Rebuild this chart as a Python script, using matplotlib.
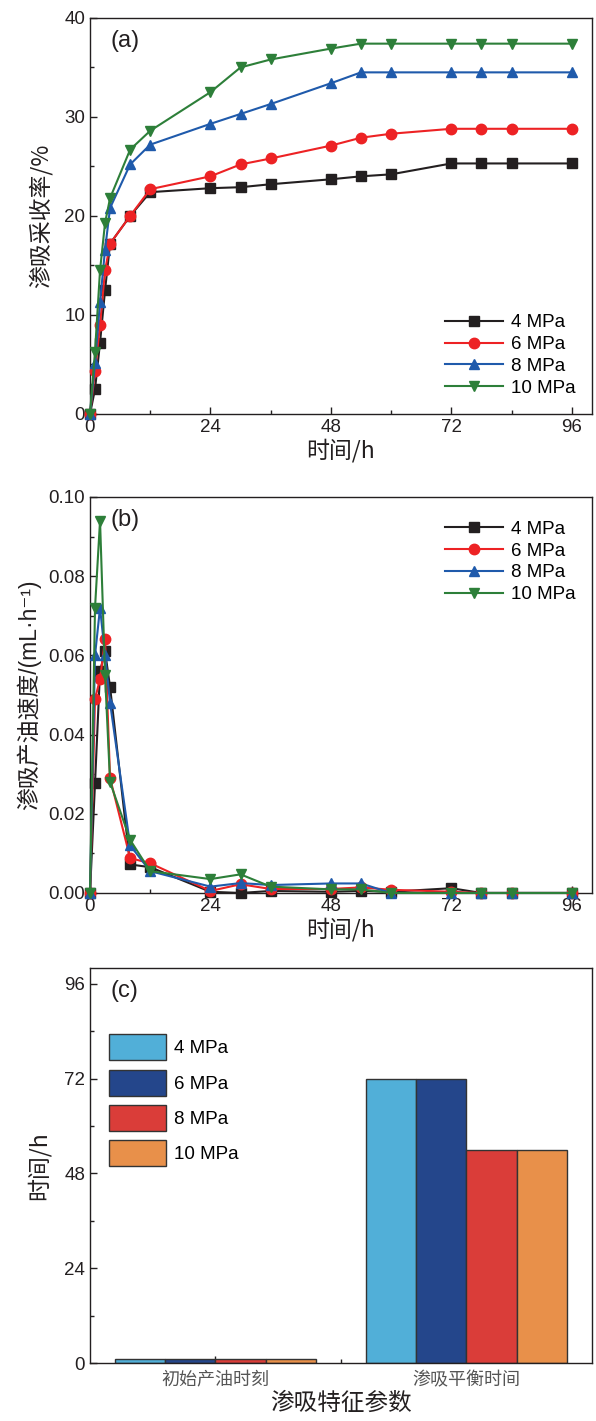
import numpy as np
import matplotlib
matplotlib.use('Agg')
import matplotlib.pyplot as plt
from matplotlib.ticker import MultipleLocator, FixedLocator

plt.rcParams['font.family'] = ['Liberation Sans', 'Noto Sans CJK SC', 'DejaVu Sans']
cjk = ['Noto Sans CJK SC', 'Liberation Sans', 'DejaVu Sans']

# time points (h)
hours = [0, 1, 2, 3, 4, 8, 12, 24, 30, 36, 48, 54, 60, 72, 78, 84, 96]
pressures = ['4 MPa', '6 MPa', '8 MPa', '10 MPa']

# (a) imbibition recovery (%)
rec_4 = [0, 2.5, 7.2, 12.5, 17.2, 20.0, 22.4, 22.8, 22.9, 23.2, 23.7, 24.0, 24.2, 25.3, 25.3, 25.3, 25.3]
rec_6 = [0, 4.3, 9.0, 14.5, 17.2, 20.0, 22.7, 24.0, 25.2, 25.8, 27.1, 27.9, 28.3, 28.8, 28.8, 28.8, 28.8]
rec_8 = [0, 5.1, 11.3, 16.6, 20.8, 25.2, 27.2, 29.3, 30.3, 31.3, 33.4, 34.5, 34.5, 34.5, 34.5, 34.5, 34.5]
rec_10 = [0, 6.3, 14.5, 19.3, 21.8, 26.7, 28.6, 32.5, 35.0, 35.8, 36.9, 37.4, 37.4, 37.4, 37.4, 37.4, 37.4]

# (b) oil production rate (mL/h)
rate_4 = [0, 0.0277, 0.056, 0.061, 0.052, 0.0072, 0.0065, 0.0003, 0.0, 0.0005, 0.0003, 0.0005, 0.0003, 0.0012, 0, 0, 0]
rate_6 = [0, 0.049, 0.054, 0.064, 0.029, 0.0088, 0.0075, 0.0005, 0.0022, 0.001, 0.001, 0.0014, 0.0008, 0.0003, 0, 0, 0]
rate_8 = [0, 0.060, 0.072, 0.060, 0.048, 0.012, 0.0055, 0.0016, 0.0025, 0.002, 0.0024, 0.0024, 0, 0, 0, 0, 0]
rate_10 = [0, 0.072, 0.094, 0.055, 0.028, 0.0134, 0.0055, 0.0035, 0.0047, 0.0016, 0.0009, 0.0009, 0, 0, 0, 0, 0]

# (c) characteristic times (h)
params = ['初始产油时刻', '渗吸平衡时间']
t_4 = [1, 72]
t_6 = [1, 72]
t_8 = [1, 54]
t_10 = [1, 54]

line_colors = ['#231f20', '#ed2224', '#1f5aab', '#2d7f39']
markers = ['s', 'o', '^', 'v']
bar_colors = ['#51afd8', '#24468b', '#da3d39', '#e8904a']
ink = '#231f20'

fig = plt.figure(figsize=(5.96, 14.21), dpi=100)
ax_a = fig.add_axes([0.151, 0.7087, 0.842, 0.2787])
ax_b = fig.add_axes([0.151, 0.3716, 0.842, 0.2787])
ax_c = fig.add_axes([0.151, 0.0408, 0.842, 0.2780])


def style_axes(ax):
    for s in ax.spines.values():
        s.set_color(ink)
        s.set_linewidth(1.0)
    ax.tick_params(which='both', direction='in', colors=ink, labelsize=13.5, width=1.0)
    ax.tick_params(which='major', length=5)
    ax.tick_params(which='minor', length=3)


leg_kw = dict(frameon=False, fontsize=13.5, handlelength=3.1, labelspacing=0.25,
              handletextpad=0.4, borderpad=0.2)

# panel (a)
for vals, c, m, lab in zip([rec_4, rec_6, rec_8, rec_10], line_colors, markers, pressures):
    ax_a.plot(hours, vals, color=c, marker=m, markersize=7.5, linewidth=1.5, label=lab, clip_on=False, zorder=3)
ax_a.set_xlim(0, 100)
ax_a.set_ylim(0, 40)
ax_a.xaxis.set_major_locator(MultipleLocator(24))
ax_a.xaxis.set_minor_locator(MultipleLocator(12))
ax_a.yaxis.set_major_locator(MultipleLocator(10))
ax_a.yaxis.set_minor_locator(MultipleLocator(5))
style_axes(ax_a)
ax_a.set_xlabel('时间/h', family=cjk, fontsize=16.5, color=ink, labelpad=2)
ax_a.set_ylabel('渗吸采收率/%', family=cjk, fontsize=16.5, color=ink, labelpad=8)
ax_a.text(0.04, 0.97, '(a)', transform=ax_a.transAxes, fontsize=17, color=ink, va='top')
ax_a.legend(loc='lower right', bbox_to_anchor=(0.993, 0.01), **leg_kw)

# panel (b)
for vals, c, m, lab in zip([rate_4, rate_6, rate_8, rate_10], line_colors, markers, pressures):
    ax_b.plot(hours, vals, color=c, marker=m, markersize=7.5, linewidth=1.5, label=lab, clip_on=False, zorder=3)
ax_b.set_xlim(0, 100)
ax_b.set_ylim(0, 0.10)
ax_b.xaxis.set_major_locator(MultipleLocator(24))
ax_b.xaxis.set_minor_locator(MultipleLocator(12))
ax_b.yaxis.set_major_locator(MultipleLocator(0.02))
ax_b.yaxis.set_minor_locator(MultipleLocator(0.01))
ax_b.yaxis.set_major_formatter(matplotlib.ticker.FormatStrFormatter('%.2f'))
style_axes(ax_b)
ax_b.set_xlabel('时间/h', family=cjk, fontsize=16.5, color=ink, labelpad=2)
ax_b.set_ylabel('渗吸产油速度/(mL·h⁻¹)', fontsize=16.5, color=ink, labelpad=5)
ax_b.text(0.04, 0.97, '(b)', transform=ax_b.transAxes, fontsize=17, color=ink, va='top')
ax_b.legend(loc='upper right', bbox_to_anchor=(0.993, 0.973), **leg_kw)

# panel (c)
x = np.arange(len(params))
width = 0.2
for i, (vals, c, lab) in enumerate(zip([t_4, t_6, t_8, t_10], bar_colors, pressures)):
    ax_c.bar(x + (i - 1.5) * width, vals, width, color=c, edgecolor='#333333', linewidth=1.0, label=lab, zorder=2)
ax_c.set_xlim(-0.5, 1.5)
ax_c.set_ylim(0, 100)
ax_c.set_xticks(x)
ax_c.set_xticklabels(params, family=cjk, fontsize=13, color='#555555')
ax_c.xaxis.set_minor_locator(FixedLocator([0.5]))
ax_c.yaxis.set_major_locator(MultipleLocator(24))
ax_c.yaxis.set_minor_locator(MultipleLocator(12))
style_axes(ax_c)
ax_c.tick_params(axis='x', which='both', labelcolor='#555555', labelsize=13, pad=6)
ax_c.set_xlabel('渗吸特征参数', family=cjk, fontsize=17, color=ink, labelpad=2)
ax_c.set_ylabel('时间/h', family=cjk, fontsize=16.5, color=ink, labelpad=10)
ax_c.text(0.04, 0.97, '(c)', transform=ax_c.transAxes, fontsize=17, color=ink, va='top')
ax_c.legend(loc='upper left', bbox_to_anchor=(0.012, 0.865), frameon=False, fontsize=13.5,
            handlelength=3.05, handleheight=1.75, labelspacing=0.5, handletextpad=0.4, borderpad=0.2)

fig.savefig('out.png', dpi=100)
